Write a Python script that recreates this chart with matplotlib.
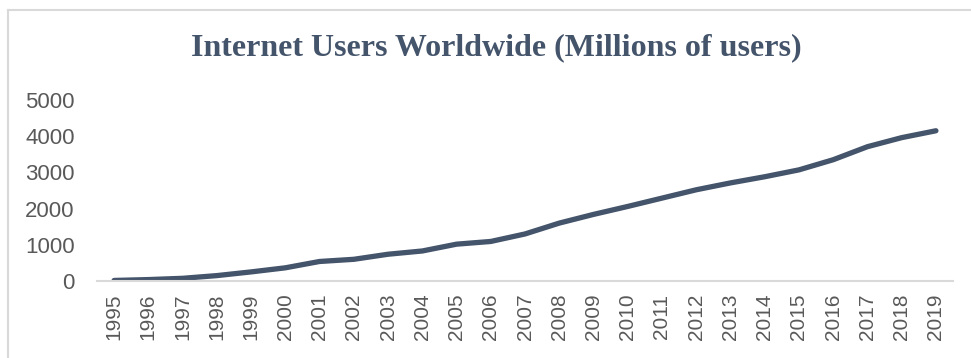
import matplotlib
matplotlib.use("Agg")
import matplotlib.pyplot as plt
from matplotlib.lines import Line2D

# Internet users worldwide, millions
years = [str(y) for y in range(1995, 2020)]
users = [16, 40, 75, 150, 252, 365, 540, 600, 740, 830, 1018, 1093, 1300,
         1600, 1840, 2060, 2290, 2520, 2710, 2880, 3070, 3350, 3710, 3960, 4150]

LINE_COLOR = "#44546A"
TICK_COLOR = "#595959"
GRID_COLOR = "#D9D9D9"

fig = plt.figure(figsize=(9.71, 3.58), dpi=100)
ax = fig.add_axes([0.0999, 0.215, 0.8816, 0.5057])

x = list(range(len(years)))
ax.plot(x, users, color=LINE_COLOR, lw=3.8, solid_capstyle="round",
        solid_joinstyle="round")

ax.set_xlim(-0.5, len(years) - 0.5)
ax.set_ylim(0, 5000)
ax.set_yticks(range(0, 5001, 1000))
ax.set_xticks(x)
ax.set_xticklabels(years, rotation=90)

for side in ["top", "right", "left"]:
    ax.spines[side].set_visible(False)
ax.spines["bottom"].set_color(GRID_COLOR)
ax.spines["bottom"].set_linewidth(1.5)
ax.tick_params(axis="both", length=0, colors=TICK_COLOR)
ax.tick_params(axis="y", pad=16, labelsize=16)
ax.tick_params(axis="x", pad=9, labelsize=15)
for lbl in ax.get_xticklabels() + ax.get_yticklabels():
    lbl.set_fontfamily("Liberation Sans")

fig.text(0.511, 0.866, "Internet Users Worldwide (Millions of users)",
         ha="center", va="center", fontsize=23, fontweight="bold",
         family="Liberation Serif", color=LINE_COLOR)

# chart frame (top and left edges only are visible in the crop)
fig.add_artist(Line2D([8 / 971, 1.0], [1 - 10 / 358] * 2,
                      transform=fig.transFigure, color=GRID_COLOR, lw=1.5))
fig.add_artist(Line2D([8 / 971] * 2, [0, 1 - 10 / 358],
                      transform=fig.transFigure, color=GRID_COLOR, lw=1.5))

fig.savefig("out.png", dpi=100)
